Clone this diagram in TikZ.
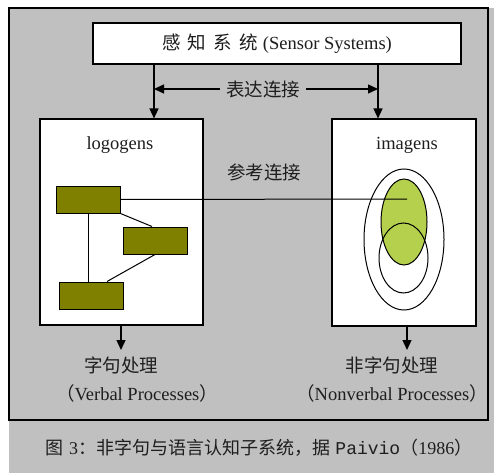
\documentclass[tikz,border=0pt]{standalone}
\usepackage{fontspec}
\setmainfont{Liberation Serif}
\newfontfamily\cjk{Noto Sans CJK SC}
\newfontfamily\monof{Liberation Mono}
\usetikzlibrary{arrows.meta,shapes.geometric}
\definecolor{bggray}{RGB}{192,192,192}
\definecolor{olivebox}{RGB}{128,128,0}
\definecolor{leafgreen}{RGB}{180,208,76}
\definecolor{txt}{RGB}{30,30,30}
\tikzset{
  lbl/.style={font=\fontsize{18.5}{22}\selectfont, text=txt, inner sep=0pt},
  caplbl/.style={font=\fontsize{18}{22}\selectfont, text=txt, inner sep=0pt},
  whitebox/.style={draw=black, line width=1.1pt, fill=white, inner sep=0pt},
  oliverect/.style={draw=black, line width=1pt, fill=olivebox, minimum width=64pt, minimum height=27pt, inner sep=0pt},
  oval/.style={ellipse, draw=black, line width=1pt, inner sep=0pt},
  arr/.style={line width=1.3pt, -{Triangle[length=10pt,width=9pt]}},
  conn/.style={line width=1pt}
}
\begin{document}
\begin{tikzpicture}[x=1pt,y=-1pt]
\useasboundingbox (0,0) rectangle (494,473);
\fill[bggray] (9,8) rectangle (494,473);
\draw[line width=1.4pt] (9,8) rectangle (488,420);

% top box
\node[whitebox, minimum width=368pt, minimum height=41pt] (sensor) at (277,43.5) {};
\node[lbl] (sensortxt) at (sensor.center) {{\cjk 感\hspace{0.4em}知\hspace{0.4em}系\hspace{0.4em}统} (Sensor Systems)};

% boxes
\node[whitebox, minimum width=163pt, minimum height=206pt] (lbox) at (121.5,222) {};
\node[whitebox, minimum width=144pt, minimum height=207pt] (rbox) at (404,222.5) {};

% arrows from sensor
\coordinate (ltop) at (154,64);
\coordinate (rtop) at (378,64);
\draw[arr] (ltop) -- (ltop |- lbox.north);
\draw[arr] (rtop) -- (rtop |- rbox.north);

\node[lbl] (biaoda) at (263,89) {\cjk 表达连接};
\draw[arr] ([xshift=-6pt]biaoda.west) -- (biaoda.west -| ltop);
\draw[arr] ([xshift=6pt]biaoda.east) -- (biaoda.east -| rtop);

\node[lbl] (cankao) at (264,172) {\cjk 参考连接};

\node[lbl] (logo) at (120,145) {logogens};
\node[lbl] (imag) at (407,145) {imagens};

% logogen rects
\node[oliverect] (r1) at (88,199.5) {};
\node[oliverect] (r2) at (155,240.5) {};
\node[oliverect] (r3) at (91,295.5) {};
\draw[conn] (r1.south) -- (r1.south |- r3.north);
\draw[conn] (r1.south east) -- ([xshift=-3pt]r2.north);
\draw[conn] (r2.south) -- ([xshift=16pt]r3.north);

% imagens ellipses
\node[oval, minimum width=80pt, minimum height=141pt] (e1) at (404,239.5) {};
\node[oval, fill=leafgreen, minimum width=46pt, minimum height=86pt] (e2) at (404,222) {};
\node[oval, minimum width=49pt, minimum height=70pt] (e3) at (403.5,258) {};

\coordinate (refend) at (407,199);
\draw[conn] (r1.east) -- (refend);

% bottom arrows
\coordinate (lbot) at (121,325);
\coordinate (rbot) at (407,326);
\draw[arr] (lbot) -- (121,350);
\draw[arr] (rbot) -- (407,350);

\node[lbl] (zj) at (121,365) {\cjk 字句处理};
\node[lbl] (vp) at (137,393) {{\cjk （}Verbal Processes{\cjk ）}};
\node[lbl] (fzj) at (392,365) {\cjk 非字句处理};
\node[lbl] (nvp) at (392,393) {{\cjk （}Nonverbal Processes{\cjk ）}};

\node[caplbl] (cap) at (259,448) {{\cjk 图}\hspace{0.3em}3{\cjk ：非字句与语言认知子系统，据}\hspace{0.3em}{\monof Paivio}{\cjk （}1986{\cjk ）}};
\end{tikzpicture}
\end{document}
